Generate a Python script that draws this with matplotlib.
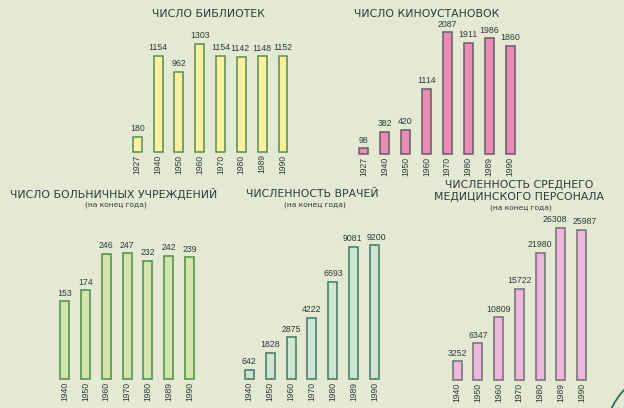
import matplotlib
matplotlib.use("Agg")
import matplotlib.pyplot as plt
from matplotlib.patches import Circle

# --- data -------------------------------------------------------------
lib_years = ["1927", "1940", "1950", "1960", "1970", "1980", "1989", "1990"]
lib_values = [180, 1154, 962, 1303, 1154, 1142, 1148, 1152]

cinema_years = ["1927", "1940", "1950", "1960", "1970", "1980", "1989", "1990"]
cinema_values = [98, 382, 420, 1114, 2087, 1911, 1986, 1860]

hosp_years = ["1940", "1950", "1960", "1970", "1980", "1989", "1990"]
hosp_values = [153, 174, 246, 247, 232, 242, 239]

doc_years = ["1940", "1950", "1960", "1970", "1980", "1989", "1990"]
doc_values = [642, 1828, 2875, 4222, 6693, 9081, 9200]

nurse_years = ["1940", "1950", "1960", "1970", "1980", "1989", "1990"]
nurse_values = [3252, 6347, 10809, 15722, 21980, 26308, 25987]

# --- figure -----------------------------------------------------------
W, H = 624, 408
BG = "#e3e9d3"
TXT = "#33383a"
NUM_FONT = ["Liberation Sans", "DejaVu Sans"]

fig = plt.figure(figsize=(W / 100, H / 100), dpi=100)
fig.patch.set_facecolor(BG)


def panel(years, values, first_center, spacing, baseline, px_per_unit,
          face, edge, label_size=6.3, year_size=6.2, label_shift=None):
    n = len(values)
    axh = 200
    left = first_center - 0.5 * spacing
    ax = fig.add_axes([left / W, (H - baseline) / H, n * spacing / W, axh / H])
    ax.set_xlim(-0.5, n - 0.5)
    ax.set_ylim(0, axh / px_per_unit)
    ax.axis("off")
    ax.patch.set_alpha(0)
    x = list(range(n))
    shift = label_shift or {}
    ax.bar(x, values, width=0.43, color=face, edgecolor=edge,
           linewidth=1.1, clip_on=False)
    for xi, v, yr in zip(x, values, years):
        ax.annotate(str(v), (xi, v), xytext=(shift.get(xi, 0), 2.6),
                    textcoords="offset points", ha="center", va="bottom",
                    fontsize=label_size, color=TXT, family=NUM_FONT,
                    annotation_clip=False)
        ax.annotate(yr, (xi, 0), xytext=(0, -2.0), textcoords="offset points",
                    ha="center", va="top", rotation=90, fontsize=year_size,
                    color=TXT, family=NUM_FONT, annotation_clip=False)
    return ax


def title(text, cx, cy, size=7.8):
    fig.text(cx / W, 1 - cy / H, text, ha="center", va="center",
             fontsize=size, color=TXT, family="DejaVu Sans")


def subtitle(cx, cy):
    fig.text(cx / W, 1 - cy / H, "(на конец года)", ha="center", va="center",
             fontsize=5.4, color=TXT, family="DejaVu Sans")


# libraries
panel(lib_years, lib_values, 137.2, 20.83, 151.7, 0.083,
      "#f6f2a2", "#5c8a48", label_shift={5: -1.2})
title("ЧИСЛО БИБЛИОТЕК", 208, 14)

# cinema installations
panel(cinema_years, cinema_values, 363.8, 20.89, 154.0, 0.0583,
      "#e98cb6", "#6a5a62")
title("ЧИСЛО КИНОУСТАНОВОК", 427, 14)

# hospitals
panel(hosp_years, hosp_values, 64.7, 20.8, 379.0, 0.509,
      "#d3e5ab", "#4f8a48")
title("ЧИСЛО БОЛЬНИЧНЫХ УЧРЕЖДЕНИЙ", 114, 194)
subtitle(116, 205)

# doctors
panel(doc_years, doc_values, 249.2, 20.93, 379.3, 0.01457,
      "#cde5d5", "#3f7a5e", label_shift={5: -1.2, 6: 1.2})
title("ЧИСЛЕННОСТЬ ВРАЧЕЙ", 312.5, 194)
subtitle(315, 205)

# nursing staff
panel(nurse_years, nurse_values, 457.2, 20.72, 380.0, 0.00579,
      "#edb8dd", "#6f6f72", label_shift={5: -4.5, 6: 2.0})
title("ЧИСЛЕННОСТЬ СРЕДНЕГО", 519, 185)
title("МЕДИЦИНСКОГО ПЕРСОНАЛА", 519, 197)
subtitle(521, 208)

# decorative ring in the lower-right corner
ov = fig.add_axes([0, 0, 1, 1])
ov.set_xlim(0, W)
ov.set_ylim(H, 0)
ov.axis("off")
ov.patch.set_alpha(0)
ov.add_patch(Circle((675, 438), 70, fill=False, edgecolor="#2f6a5a",
                    linewidth=1.3))

fig.savefig("out.png", dpi=100, facecolor=BG)
